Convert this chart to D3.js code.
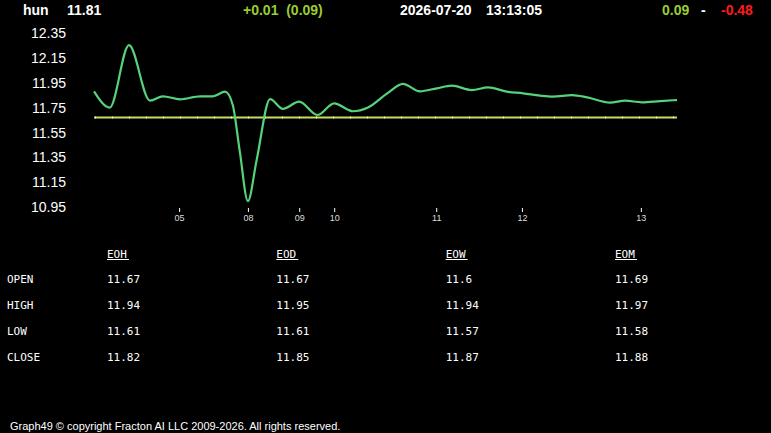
<!DOCTYPE html>
<html>
<head>
<meta charset="utf-8">
<script src="https://cdn.jsdelivr.net/npm/d3@7"></script>
<style>
  html, body { margin: 0; padding: 0; background: #000; }
  svg { display: block; }
</style>
</head>
<body>
<svg id="chart" width="771" height="433"></svg>
<script>
// ---- data ----
const symbol = "hun";
const lastPrice = "11.81";
const change = "+0.01  (0.09)";
const dateText = "2026-07-20";
const timeText = "13:13:05";
const rangeHigh = "0.09";
const rangeLow = "-0.48";

// session position (0..100) and price
const seqPos = [0, 2.7, 6.0, 9.6, 11.8, 14.8, 18.2, 20.4, 22.5, 23.8, 25.0, 26.4, 27.9, 30.2, 32.4, 35.2, 38.3, 41.2, 44.4, 47.0, 50.3, 53.0, 55.9, 58.8, 61.4, 64.8, 67.6, 70.8, 73.6, 76.5, 78.7, 82.0, 84.6, 88.5, 91.1, 94.0, 97.1, 100];
const prices = [11.88, 11.75, 12.25, 11.805, 11.84, 11.816, 11.84, 11.84, 11.877, 11.77, 11.40, 11.00, 11.33, 11.818, 11.74, 11.797, 11.69, 11.784, 11.72, 11.75, 11.864, 11.94, 11.88, 11.904, 11.925, 11.89, 11.912, 11.877, 11.864, 11.845, 11.837, 11.85, 11.832, 11.79, 11.805, 11.792, 11.802, 11.81];
const refLevel = 11.67;

const yTicks = [12.35, 12.15, 11.95, 11.75, 11.55, 11.35, 11.15, 10.95];
const xTickPos = [14.6, 26.4, 35.2, 41.2, 58.7, 73.4, 93.8];
const xTickLabels = ["05", "08", "09", "10", "11", "12", "13"];

const tableCols = ["EOH", "EOD", "EOW", "EOM"];
const tableRows = ["OPEN", "HIGH", "LOW", "CLOSE"];
const openVals = ["11.67", "11.67", "11.6", "11.69"];
const highVals = ["11.94", "11.95", "11.94", "11.97"];
const lowVals = ["11.61", "11.61", "11.57", "11.58"];
const closeVals = ["11.82", "11.85", "11.87", "11.88"];

const footer = "Graph49 \u00A9 copyright Fracton AI LLC 2009-2026. All rights reserved.";

// ---- drawing ----
const svg = d3.select("#chart");
svg.append("rect").attr("width", 771).attr("height", 433).attr("fill", "#000");

const x = d3.scaleLinear().domain([0, 100]).range([94, 677]);
const y = d3.scaleLinear().domain([10.95, 12.35]).range([207.3, 32.7]);

// header
const hdr = svg.append("g").attr("font-family", "Arial, 'Liberation Sans', sans-serif")
  .attr("font-weight", "bold").attr("font-size", 14);
hdr.append("text").attr("x", 23).attr("y", 15).attr("fill", "#fff").text(symbol);
hdr.append("text").attr("x", 67).attr("y", 15).attr("fill", "#fff").text(lastPrice);
hdr.append("text").attr("x", 243).attr("y", 15).attr("fill", "#9acd32").attr("xml:space", "preserve").style("white-space", "pre").text(change);
hdr.append("text").attr("x", 400).attr("y", 15).attr("fill", "#fff").text(dateText);
hdr.append("text").attr("x", 486).attr("y", 15).attr("fill", "#fff").text(timeText);
hdr.append("text").attr("x", 662).attr("y", 15).attr("fill", "#9acd32").text(rangeHigh);
hdr.append("text").attr("x", 701).attr("y", 15).attr("fill", "#fff").text("-");
hdr.append("text").attr("x", 721).attr("y", 15).attr("fill", "#ff1a1a").text(rangeLow);

// y labels
svg.append("g").selectAll("text").data(yTicks).join("text")
  .attr("x", 66).attr("y", d => y(d)).attr("dy", "0.36em")
  .attr("text-anchor", "end").attr("fill", "#fff")
  .attr("font-family", "Arial, 'Liberation Sans', sans-serif").attr("font-size", 14)
  .text(d => d.toFixed(2));

// x axis ticks
const xAxis = d3.axisBottom(x).tickValues(xTickPos)
  .tickFormat((d, i) => xTickLabels[i]).tickSize(4).tickPadding(3);
const xg = svg.append("g").attr("transform", "translate(0,208)").call(xAxis);
xg.select(".domain").remove();
xg.selectAll(".tick line").attr("stroke", "#fff");
xg.selectAll(".tick text").attr("fill", "#ddd")
  .attr("font-family", "Arial, 'Liberation Sans', sans-serif").attr("font-size", 9);

// reference line
svg.append("line").attr("x1", x(0)).attr("x2", x(100))
  .attr("y1", y(refLevel)).attr("y2", y(refLevel))
  .attr("stroke", "#c9dc62").attr("stroke-width", 2);
svg.append("line").attr("x1", x(0) + 1).attr("x2", x(100))
  .attr("y1", y(refLevel)).attr("y2", y(refLevel))
  .attr("stroke", "#eef3c0").attr("stroke-width", 2).attr("stroke-dasharray", "1,16");

// price line
const pts = seqPos.map((p, i) => [p, prices[i]]);
const line = d3.line().x(d => x(d[0])).y(d => y(d[1])).curve(d3.curveMonotoneX);
svg.append("path").datum(pts).attr("d", line)
  .attr("fill", "none").attr("stroke", "#55d27a").attr("stroke-width", 2.2)
  .attr("stroke-linejoin", "round");

// table
const mono = "'DejaVu Sans Mono', 'Liberation Mono', monospace";
const colX = d3.scalePoint().domain(tableCols).range([107, 615]);
const rowY = d3.scalePoint().domain(tableRows).range([279, 357]);
const tg = svg.append("g").attr("font-family", mono).attr("font-size", 11).attr("fill", "#fff");
tableCols.forEach(c => {
  tg.append("text").attr("x", colX(c)).attr("y", 254).attr("dy", "0.36em").text(c);
  tg.append("line").attr("x1", colX(c)).attr("x2", colX(c) + 22)
    .attr("y1", 259.5).attr("y2", 259.5).attr("stroke", "#fff").attr("stroke-width", 1);
});
tableRows.forEach(r => {
  tg.append("text").attr("x", 7).attr("y", rowY(r)).attr("dy", "0.36em").text(r);
});
const vals = [openVals, highVals, lowVals, closeVals];
tableRows.forEach((r, ri) => {
  tableCols.forEach((c, ci) => {
    tg.append("text").attr("x", colX(c)).attr("y", rowY(r)).attr("dy", "0.36em").text(vals[ri][ci]);
  });
});

// footer
svg.append("text").attr("x", 10).attr("y", 430)
  .attr("fill", "#fff").attr("font-family", "Arial, 'Liberation Sans', sans-serif")
  .attr("font-size", 11).text(footer);
</script>
</body>
</html>
